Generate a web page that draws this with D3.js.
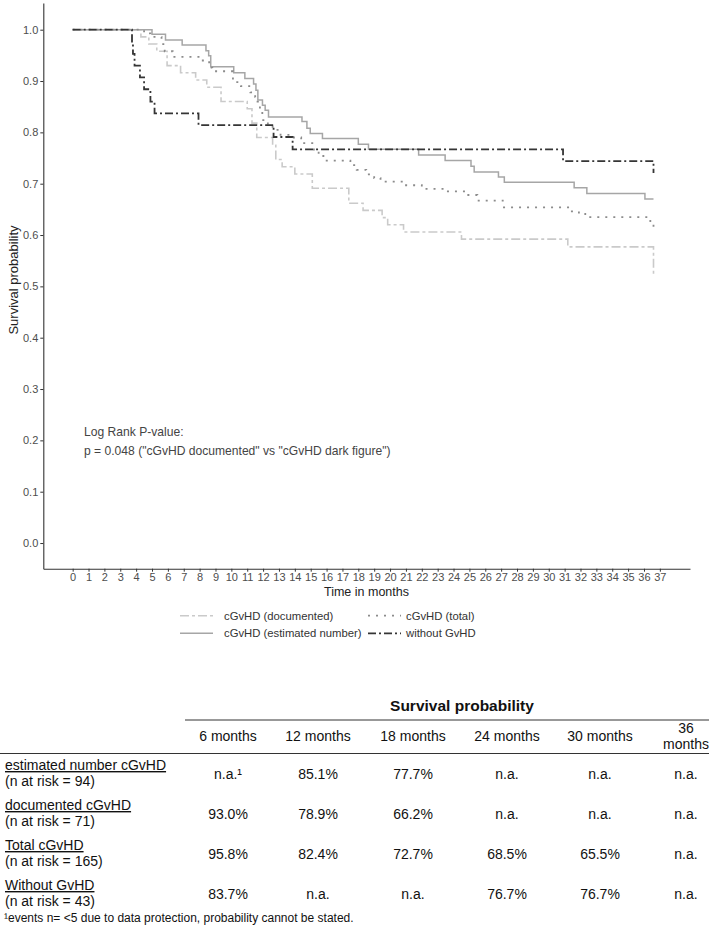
<!DOCTYPE html>
<html>
<head>
<meta charset="utf-8">
<script src="https://cdn.jsdelivr.net/npm/d3@7"></script>
<style>
  body { margin: 0; background: #fff; }
  text { font-family: "Liberation Sans", Arial, Helvetica, sans-serif; }
</style>
</head>
<body>
<svg id="chart" width="709" height="926"></svg>
<script>
// Kaplan-Meier step data (months, survival)
var estTimes = [0, 5.0, 5.85, 6.9, 8.4, 8.57, 8.7, 10.15, 10.85, 11.4, 11.55, 11.67, 11.96, 12.13, 12.34, 14.45, 14.76, 14.97, 15.74, 18.0, 18.64, 21.8, 23.47, 25.1, 25.3, 26.83, 27.2, 31.6, 32.4, 36.06, 36.6];
var estSurv  = [1.0, 0.991, 0.980, 0.970, 0.959, 0.949, 0.928, 0.916, 0.905, 0.894, 0.882, 0.863, 0.853, 0.843, 0.830, 0.821, 0.808, 0.798, 0.788, 0.777, 0.767, 0.756, 0.745, 0.734, 0.723, 0.713, 0.703, 0.692, 0.681, 0.670, 0.670];

var docTimes = [0, 4.3, 4.8, 5.3, 5.95, 6.8, 7.75, 8.45, 9.35, 11.0, 11.3, 11.6, 12.6, 12.8, 13.2, 14.0, 15.1, 17.4, 18.3, 19.5, 19.85, 20.85, 24.5, 31.2, 36.6, 36.6];
var docSurv  = [1.0, 0.986, 0.972, 0.958, 0.930, 0.916, 0.902, 0.888, 0.860, 0.846, 0.818, 0.790, 0.775, 0.747, 0.733, 0.719, 0.691, 0.662, 0.648, 0.634, 0.620, 0.606, 0.592, 0.577, 0.577, 0.522];

var totTimes = [0, 4.5, 4.9, 5.6, 5.8, 6.3, 8.0, 8.6, 8.8, 10.1, 10.6, 11.2, 11.5, 11.65, 11.8, 11.95, 12.3, 12.6, 13.1, 13.6, 14.4, 15.2, 15.5, 15.8, 17.5, 17.9, 18.5, 19.0, 19.4, 20.8, 22.0, 23.5, 24.8, 25.5, 27.1, 31.3, 31.9, 32.3, 36.4, 36.6];
var totSurv  = [1.0, 0.993, 0.986, 0.972, 0.958, 0.947, 0.940, 0.926, 0.919, 0.898, 0.890, 0.878, 0.869, 0.860, 0.843, 0.824, 0.815, 0.805, 0.795, 0.790, 0.779, 0.764, 0.754, 0.745, 0.736, 0.727, 0.718, 0.711, 0.704, 0.697, 0.690, 0.685, 0.678, 0.667, 0.654, 0.646, 0.641, 0.635, 0.623, 0.610];

var woTimes = [0, 3.74, 3.8, 3.9, 4.24, 4.5, 4.9, 5.16, 7.93, 12.66, 13.86, 30.9, 36.6, 36.6];
var woSurv  = [1.0, 0.977, 0.953, 0.930, 0.907, 0.884, 0.860, 0.837, 0.814, 0.791, 0.767, 0.744, 0.744, 0.721];

var xTicks = d3.range(0, 38);
var yTicks = d3.range(0, 11).map(function(d){ return d / 10; });

// table
var colHeads = ["6 months", "12 months", "18 months", "24 months", "30 months", "36 months"];
var rowNames = ["estimated number cGvHD", "documented cGvHD", "Total cGvHD", "Without GvHD"];
var rowRisk  = ["(n at risk = 94)", "(n at risk = 71)", "(n at risk = 165)", "(n at risk = 43)"];
var rowVals  = [
  ["n.a.¹", "85.1%", "77.7%", "n.a.", "n.a.", "n.a."],
  ["93.0%", "78.9%", "66.2%", "n.a.", "n.a.", "n.a."],
  ["95.8%", "82.4%", "72.7%", "68.5%", "65.5%", "n.a."],
  ["83.7%", "n.a.", "n.a.", "76.7%", "76.7%", "n.a."]
];

var series = [
  {name: "cGvHD (documented)", t: docTimes, s: docSurv, color: "#cacaca", dash: "9,3,3,3", w: 1.6},
  {name: "cGvHD (estimated number)", t: estTimes, s: estSurv, color: "#a6a6a6", dash: null, w: 1.5},
  {name: "cGvHD (total)", t: totTimes, s: totSurv, color: "#8c8c8c", dash: "2,6", w: 1.8},
  {name: "without GvHD", t: woTimes, s: woSurv, color: "#353535", dash: "8,3,2,3", w: 1.8}
];

var svg = d3.select("#chart");

var x = d3.scaleLinear().domain([-1.85, 38.9]).range([43.3, 690]);
var y = d3.scaleLinear().domain([-0.05, 1.052]).range([568.7, 3]);

// axes
var yAxis = svg.append("g")
    .attr("transform", "translate(43.3,0)")
    .call(d3.axisLeft(y).tickValues(yTicks).tickFormat(d3.format(".1f")).tickSize(3).tickSizeOuter(0));
var xAxis = svg.append("g")
    .attr("transform", "translate(0,568.7)")
    .call(d3.axisBottom(x).tickValues(xTicks).tickSize(3).tickSizeOuter(0));

[xAxis, yAxis].forEach(function(a){
  a.select(".domain").attr("stroke", "#333").attr("stroke-width", 1.1);
  a.selectAll(".tick line").attr("stroke", "#333");
  a.selectAll(".tick text").attr("fill", "#4d4d4d").style("font-size", "11px");
});
yAxis.selectAll(".tick text").attr("x", -5);
xAxis.selectAll(".tick text").attr("y", 5);

svg.append("text")
    .attr("x", 366.5).attr("y", 596)
    .attr("text-anchor", "middle")
    .style("font-size", "12.5px").attr("fill", "#222")
    .text("Time in months");

svg.append("text")
    .attr("transform", "translate(18,280) rotate(-90)")
    .attr("text-anchor", "middle")
    .style("font-size", "13px").attr("fill", "#222")
    .text("Survival probability");

// curves
var line = d3.line()
    .x(function(d){ return x(d[0]); })
    .y(function(d){ return y(d[1]); })
    .curve(d3.curveStepAfter);

svg.selectAll("path.km")
    .data(series)
    .enter()
    .append("path")
        .attr("class", "km")
        .attr("fill", "none")
        .attr("stroke", function(d){ return d.color; })
        .attr("stroke-width", function(d){ return d.w; })
        .attr("stroke-dasharray", function(d){ return d.dash; })
        .attr("d", function(d){ return line(d.t.map(function(t, i){ return [t, d.s[i]]; })); });

// p-value annotation
svg.append("text").attr("x", 84).attr("y", 436)
    .style("font-size", "12.1px").attr("fill", "#444")
    .text("Log Rank P-value:");
svg.append("text").attr("x", 84).attr("y", 455)
    .style("font-size", "12.1px").attr("fill", "#444")
    .text("p = 0.048 (\"cGvHD documented\" vs \"cGvHD dark figure\")");

// legend
var legPos = [[180, 615.7], [180, 633.3], [368, 615.7], [368, 633.3]];
var leg = svg.selectAll("g.leg")
    .data(series)
    .enter()
    .append("g")
        .attr("class", "leg")
        .attr("transform", function(d, i){ return "translate(" + legPos[i][0] + "," + legPos[i][1] + ")"; });
leg.append("line")
    .attr("x1", 0).attr("x2", 33).attr("y1", 0).attr("y2", 0)
    .attr("stroke", function(d){ return d.color; })
    .attr("stroke-width", function(d){ return d.w; })
    .attr("stroke-dasharray", function(d){ return d.dash; });
leg.append("text")
    .attr("x", function(d, i){ return i < 2 ? 44 : 38; })
    .attr("y", 4)
    .style("font-size", "11.3px").attr("fill", "#333")
    .text(function(d){ return d.name; });

// table
var colX = [228, 318, 413, 507, 600, 686];
var tbl = svg.append("g").style("font-size", "14px").attr("fill", "#111");

tbl.append("text").attr("x", 462).attr("y", 711)
    .attr("text-anchor", "middle").style("font-weight", "bold").style("font-size", "15.5px")
    .text("Survival probability");
tbl.append("line").attr("x1", 185).attr("x2", 709).attr("y1", 720).attr("y2", 720)
    .attr("stroke", "#333").attr("stroke-width", 1);
tbl.append("line").attr("x1", 0).attr("x2", 709).attr("y1", 753.5).attr("y2", 753.5)
    .attr("stroke", "#333").attr("stroke-width", 1);

tbl.selectAll("text.head")
    .data(colHeads)
    .enter()
    .append("text")
        .attr("class", "head")
        .attr("text-anchor", "middle")
        .each(function(d, i){
          var t = d3.select(this).attr("x", colX[i]);
          if (i === 5) {
            t.append("tspan").attr("x", colX[i]).attr("y", 733).text("36");
            t.append("tspan").attr("x", colX[i]).attr("y", 749).text("months");
          } else {
            t.attr("y", 741).text(d);
          }
        });

var rows = tbl.selectAll("g.row")
    .data(rowNames)
    .enter()
    .append("g")
        .attr("class", "row")
        .attr("transform", function(d, i){ return "translate(0," + (i * 40) + ")"; });
rows.append("text").attr("x", 5).attr("y", 770)
    .style("text-decoration", "underline")
    .text(function(d){ return d; });
rows.append("text").attr("x", 5).attr("y", 786)
    .text(function(d, i){ return rowRisk[i]; });
rows.each(function(d, i){
  d3.select(this).selectAll("text.val")
    .data(rowVals[i])
    .enter()
    .append("text")
      .attr("class", "val")
      .attr("text-anchor", "middle")
      .attr("x", function(v, j){ return colX[j]; })
      .attr("y", 779)
      .text(function(v){ return v; });
});

svg.append("text").attr("x", 4).attr("y", 922)
    .style("font-size", "12px").attr("fill", "#111")
    .text("¹events n= <5 due to data protection, probability cannot be stated.");
</script>
</body>
</html>
